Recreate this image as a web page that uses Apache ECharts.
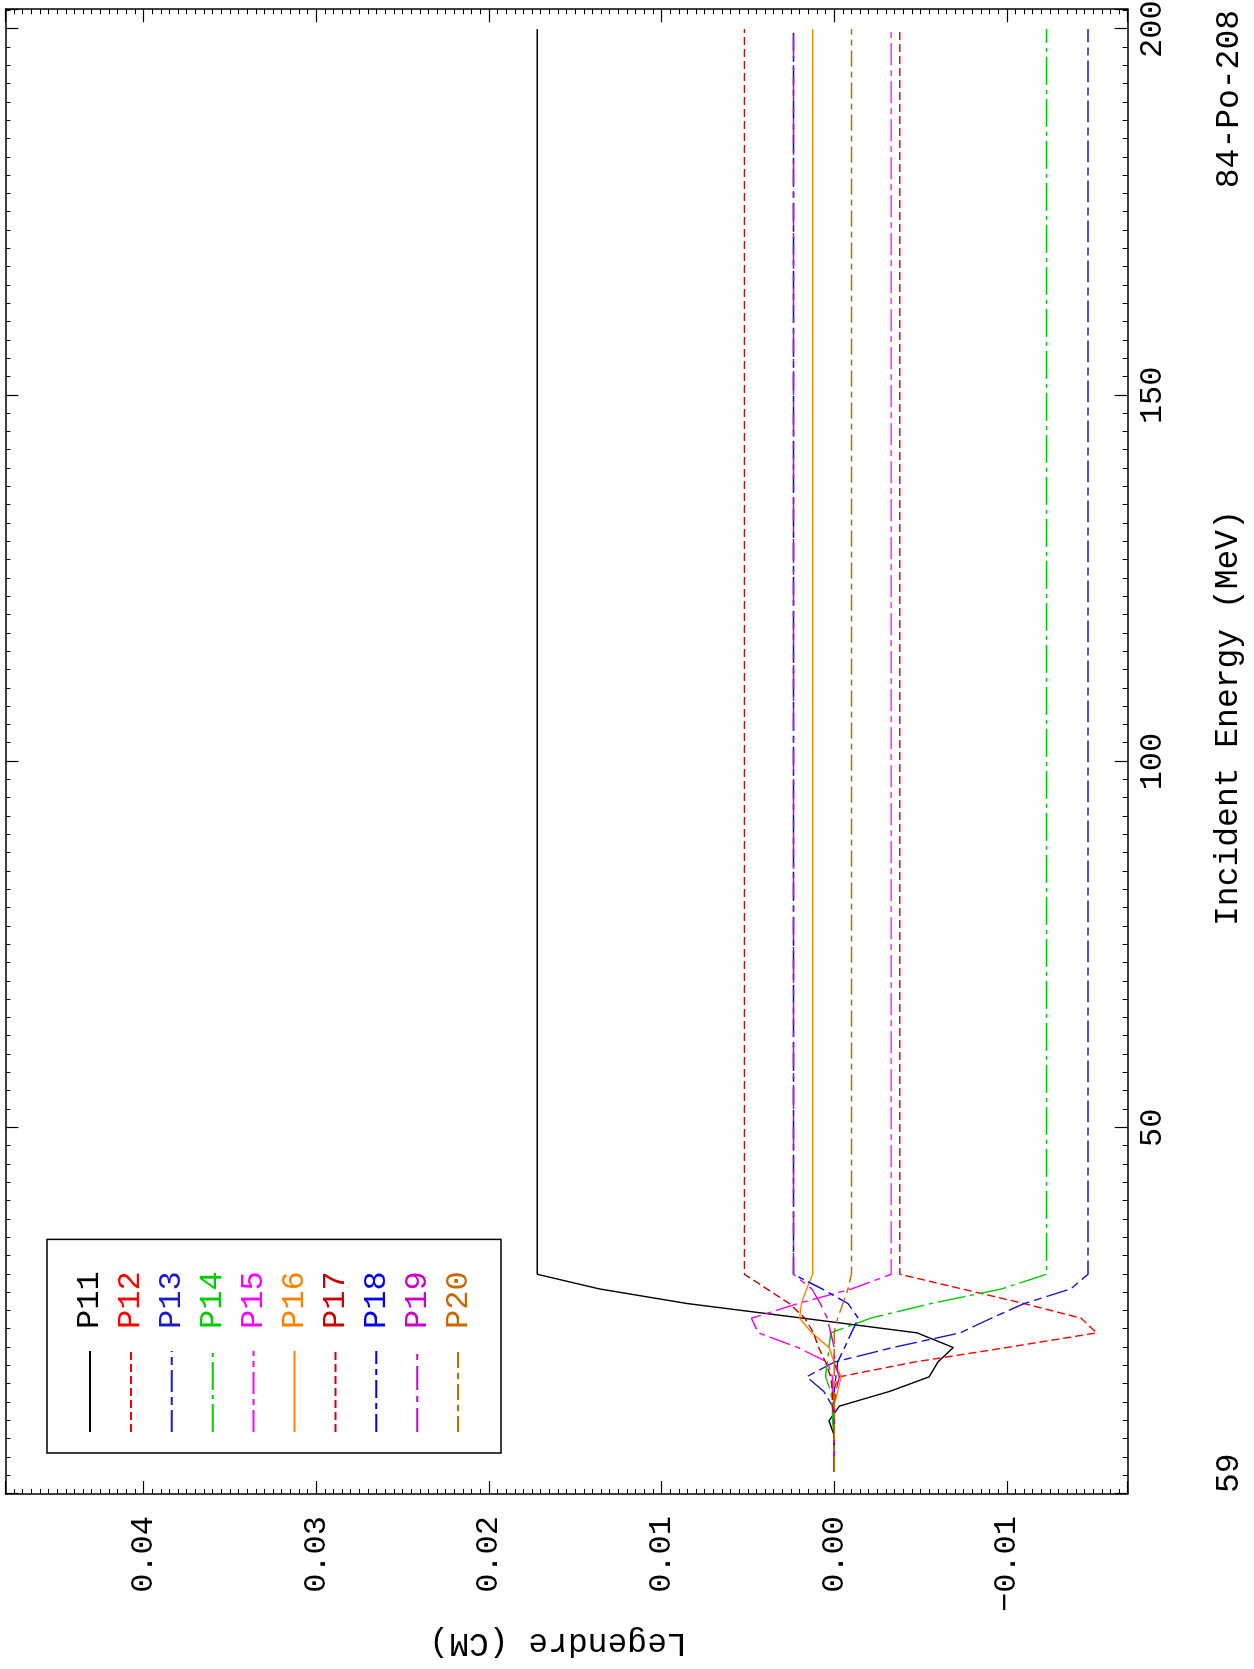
<!DOCTYPE html>
<html><head><meta charset="utf-8">
<script src="https://cdn.jsdelivr.net/npm/echarts@6/dist/echarts.min.js"></script>
<style>
html,body{margin:0;padding:0;background:#fff;width:1254px;height:1669px;overflow:hidden;}
#wrap{position:absolute;left:0;top:0;width:1669px;height:1254px;transform-origin:0 0;transform:translate(0px,1669px) rotate(-90deg);background:#fff;}
</style></head><body><div id="wrap"></div>
<script>
// Incident energy (MeV)
const energy = [3, 6, 8, 10, 12, 14, 16, 18, 20, 22, 24, 26, 28, 30, 200];
// Legendre coefficients (CM)
const P11 = [0, 0, 0.0000, 0.0003, -0.0003, -0.0032, -0.0055, -0.0060, -0.0069, -0.0048, 0.0018, 0.0085, 0.0136, 0.0172, 0.0172];
const P12 = [0, 0, 0, 0, 0.0001, 0.0001, -0.0003, -0.0046, -0.0100, -0.0152, -0.0143, -0.0110, -0.0074, -0.0038, -0.0038];
const P13 = [0, 0, 0, 0, 0.0001, 0.0006, 0.0016, 0.0000, -0.0034, -0.0073, -0.0091, -0.0110, -0.0137, -0.0147, -0.0147];
const P14 = [0, 0, 0, 0.0001, 0.0001, 0.0002, 0.0005, 0.0004, 0.0003, 0.0002, -0.0021, -0.0056, -0.0097, -0.0123, -0.0123];
const P15 = [0, 0, 0, 0, 0, 0.0001, 0.0001, 0.0004, 0.0021, 0.0044, 0.0048, 0.0021, -0.0010, -0.0033, -0.0033];
const P16 = [0, 0, 0, 0, 0, -0.0002, -0.0004, 0.0000, 0.0003, 0.0013, 0.0020, 0.0019, 0.0016, 0.00125, 0.00125];
const P17 = [0, 0, 0, 0, 0.0001, 0.0001, 0.0002, 0.0005, 0.0009, 0.0012, 0.0017, 0.0026, 0.0039, 0.0052, 0.0052];
const P18 = [0, 0, 0, 0, 0, 0, -0.0001, -0.0002, -0.0006, -0.0010, -0.0014, -0.0008, 0.0007, 0.00236, 0.00236];
const P19 = [0, 0, 0, 0, 0, -0.0001, -0.0003, 0, 0, 0.0002, 0.0004, 0.0008, 0.0013, 0.00236, 0.00236];
const P20 = [0, 0, 0, 0, 0, 0, 0, 0, 0, 0, -0.0002, -0.0005, -0.0008, -0.0010, -0.0010];

const seriesNames = ['P11', 'P12', 'P13', 'P14', 'P15', 'P16', 'P17', 'P18', 'P19', 'P20'];
const seriesValues = [P11, P12, P13, P14, P15, P16, P17, P18, P19, P20];

const energyTickValues = [50, 100, 150, 200];
const energyTickLabels = ['50', '100', '150', '200'];
const legendreTickValues = [-0.01, 0, 0.01, 0.02, 0.03, 0.04];
const legendreTickLabels = ['\u22120.01', '0.00', '0.01', '0.02', '0.03', '0.04'];

// styles
const colors = ['#000000', '#ff0000', '#1a1acc', '#00cc00', '#ff00ff', '#ff8000', '#cc0000', '#0000ff', '#cc00cc', '#cc6600'];
const dashes = ['solid', [8, 4], [22, 5, 8, 5], [28, 5, 4, 5], [22, 5, 6, 5], 'solid', [8, 4], [18, 5, 6, 5], [24, 6, 6, 6], [16, 5, 6, 5]];
const FONT = '"Liberation Mono", "DejaVu Sans Mono", monospace';

function pick(vals, labels) {
  return function (v) {
    for (let i = 0; i < vals.length; i++) {
      if (Math.abs(v - vals[i]) < 1e-7) return labels[i];
    }
    return '';
  };
}

const chart = echarts.init(document.getElementById('wrap'), null, {renderer: 'canvas'});

const tickCommon = {
  axisLine: {show: true, onZero: false, lineStyle: {color: '#000', width: 1.5}},
  splitLine: {show: false},
  axisTick: {show: true, inside: true, length: 13, lineStyle: {color: '#000', width: 1.2}},
  minorTick: {show: true, splitNumber: 20, length: 5, lineStyle: {color: '#000', width: 1}},
  minorSplitLine: {show: false}
};

const option = {
  animation: false,
  backgroundColor: '#fff',
  grid: {left: 175, right: 9.3, top: 5.4, bottom: 126.3, containLabel: false, outerBoundsMode: 'none'},
  legend: {
    show: true,
    orient: 'vertical',
    left: 216,
    top: 47,
    padding: [27, 32, 27, 20],
    itemWidth: 81,
    itemHeight: 20,
    itemGap: 8.9,
    borderColor: '#000',
    borderWidth: 1.5,
    backgroundColor: '#fff',
    selectedMode: false,
    itemStyle: {opacity: 0, borderWidth: 0},
    lineStyle: {opacity: 1},
    textStyle: {fontSize: 32, fontFamily: FONT, padding: [0, 0, 0, 17]},
    data: seriesNames.map((n, i) => ({name: n, textStyle: {color: colors[i]}}))
  },
  xAxis: [
    Object.assign({
      type: 'value', position: 'bottom', min: 0, max: 202.7, interval: 50,
      axisLabel: {margin: 9, fontSize: 32, fontFamily: FONT, color: '#000', formatter: pick(energyTickValues, energyTickLabels)}
    }, tickCommon),
    Object.assign({
      type: 'value', position: 'top', min: 0, max: 202.7, interval: 50,
      axisLabel: {show: false}
    }, tickCommon)
  ],
  yAxis: [
    Object.assign({
      type: 'value', position: 'left', min: -0.017, max: 0.048, splitNumber: 5, minInterval: 0.01, maxInterval: 0.01,
      axisLabel: {margin: 22, fontSize: 32, fontFamily: FONT, color: '#000', padding: [0, 0, 14, 0],
        formatter: pick(legendreTickValues, legendreTickLabels)}
    }, tickCommon),
    Object.assign({
      type: 'value', position: 'right', min: -0.017, max: 0.048, splitNumber: 5, minInterval: 0.01, maxInterval: 0.01,
      axisLabel: {show: false}
    }, tickCommon)
  ],
  series: seriesNames.map((n, i) => ({
    type: 'line',
    name: n,
    xAxisIndex: 0,
    yAxisIndex: 0,
    data: energy.map((e, j) => [e, seriesValues[i][j]]),
    symbol: 'none',
    showSymbol: false,
    clip: true,
    silent: true,
    emphasis: {disabled: true},
    itemStyle: {color: colors[i]},
    lineStyle: {color: colors[i], width: 1.4, type: dashes[i]}
  })),
  graphic: [
    {type: 'text', x: 951, y: 1228, silent: true,
      style: {text: 'Incident Energy (MeV)', fontSize: 33, fontFamily: FONT, fill: '#000', align: 'center', verticalAlign: 'middle'}},
    {type: 'text', x: 176, y: 1229, silent: true,
      style: {text: '59', fontSize: 33, fontFamily: FONT, fill: '#000', align: 'left', verticalAlign: 'middle'}},
    {type: 'text', x: 1659, y: 1229, silent: true,
      style: {text: '84-Po-208', fontSize: 33, fontFamily: FONT, fill: '#000', align: 'right', verticalAlign: 'middle'}},
    {type: 'text', x: 26, y: 558, rotation: Math.PI / 2, silent: true,
      style: {text: 'Legendre (CM)', fontSize: 33, fontFamily: FONT, fill: '#000', align: 'center', verticalAlign: 'middle'}}
  ]
};
chart.setOption(option);
</script>
</body></html>
